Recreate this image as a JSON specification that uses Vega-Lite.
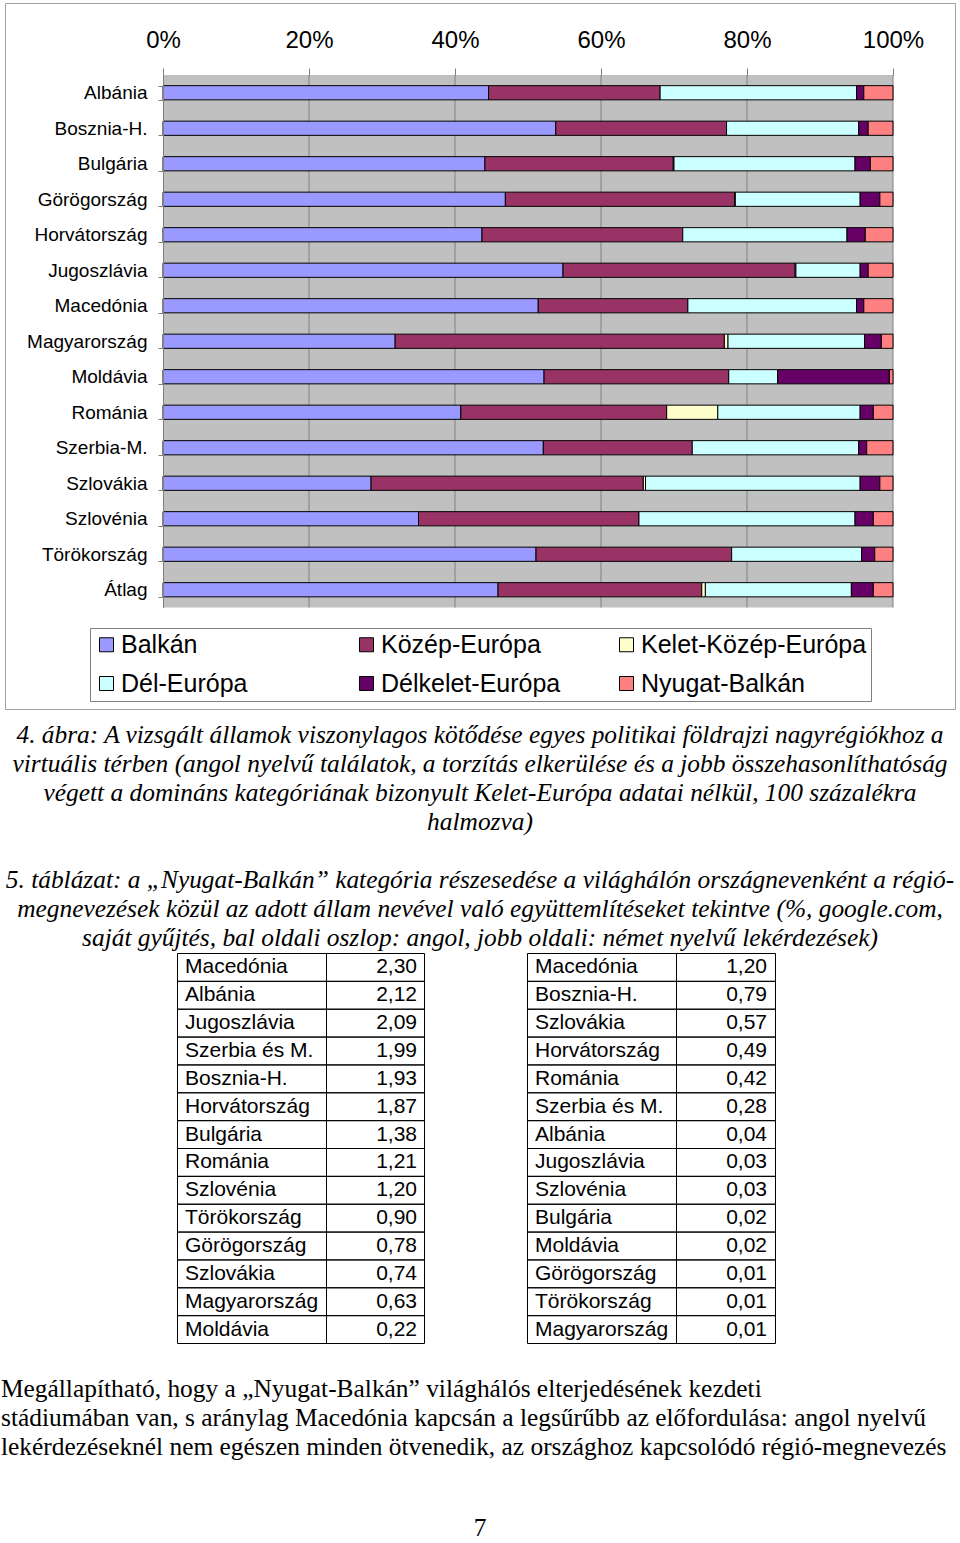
{
  "$schema": "https://vega.github.io/schema/vega-lite/v6.json",
  "width": 960,
  "height": 1543,
  "autosize": {"type": "none"},
  "padding": 0,
  "background": "white",
  "config": {
    "view": {"stroke": null},
    "font": "Liberation Sans",
    "locale": {"number": {"decimal": ",", "thousands": " ", "grouping": [3], "currency": ["", ""]}}
  },
  "datasets": {
    "egy": [{}],
    "racs": [{"ertek": 0.2}, {"ertek": 0.4}, {"ertek": 0.6}, {"ertek": 0.8}, {"ertek": 1.0}],
    "savok": [
      {"orszag": "Albánia", "kategoria": "Balkán", "ertek": 44.6},
      {"orszag": "Albánia", "kategoria": "Közép-Európa", "ertek": 23.5},
      {"orszag": "Albánia", "kategoria": "Dél-Európa", "ertek": 26.9},
      {"orszag": "Albánia", "kategoria": "Délkelet-Európa", "ertek": 1.0},
      {"orszag": "Albánia", "kategoria": "Nyugat-Balkán", "ertek": 4.0},
      {"orszag": "Bosznia-H.", "kategoria": "Balkán", "ertek": 53.8},
      {"orszag": "Bosznia-H.", "kategoria": "Közép-Európa", "ertek": 23.4},
      {"orszag": "Bosznia-H.", "kategoria": "Dél-Európa", "ertek": 18.1},
      {"orszag": "Bosznia-H.", "kategoria": "Délkelet-Európa", "ertek": 1.3},
      {"orszag": "Bosznia-H.", "kategoria": "Nyugat-Balkán", "ertek": 3.4},
      {"orszag": "Bulgária", "kategoria": "Balkán", "ertek": 44.1},
      {"orszag": "Bulgária", "kategoria": "Közép-Európa", "ertek": 25.8},
      {"orszag": "Bulgária", "kategoria": "Kelet-Közép-Európa", "ertek": 0.1},
      {"orszag": "Bulgária", "kategoria": "Dél-Európa", "ertek": 24.8},
      {"orszag": "Bulgária", "kategoria": "Délkelet-Európa", "ertek": 2.1},
      {"orszag": "Bulgária", "kategoria": "Nyugat-Balkán", "ertek": 3.1},
      {"orszag": "Görögország", "kategoria": "Balkán", "ertek": 46.9},
      {"orszag": "Görögország", "kategoria": "Közép-Európa", "ertek": 31.4},
      {"orszag": "Görögország", "kategoria": "Kelet-Közép-Európa", "ertek": 0.1},
      {"orszag": "Görögország", "kategoria": "Dél-Európa", "ertek": 17.1},
      {"orszag": "Görögország", "kategoria": "Délkelet-Európa", "ertek": 2.7},
      {"orszag": "Görögország", "kategoria": "Nyugat-Balkán", "ertek": 1.8},
      {"orszag": "Horvátország", "kategoria": "Balkán", "ertek": 43.7},
      {"orszag": "Horvátország", "kategoria": "Közép-Európa", "ertek": 27.5},
      {"orszag": "Horvátország", "kategoria": "Dél-Európa", "ertek": 22.5},
      {"orszag": "Horvátország", "kategoria": "Délkelet-Európa", "ertek": 2.5},
      {"orszag": "Horvátország", "kategoria": "Nyugat-Balkán", "ertek": 3.8},
      {"orszag": "Jugoszlávia", "kategoria": "Balkán", "ertek": 54.8},
      {"orszag": "Jugoszlávia", "kategoria": "Közép-Európa", "ertek": 31.8},
      {"orszag": "Jugoszlávia", "kategoria": "Kelet-Közép-Európa", "ertek": 0.1},
      {"orszag": "Jugoszlávia", "kategoria": "Dél-Európa", "ertek": 8.8},
      {"orszag": "Jugoszlávia", "kategoria": "Délkelet-Európa", "ertek": 1.1},
      {"orszag": "Jugoszlávia", "kategoria": "Nyugat-Balkán", "ertek": 3.4},
      {"orszag": "Macedónia", "kategoria": "Balkán", "ertek": 51.4},
      {"orszag": "Macedónia", "kategoria": "Közép-Európa", "ertek": 20.5},
      {"orszag": "Macedónia", "kategoria": "Dél-Európa", "ertek": 23.1},
      {"orszag": "Macedónia", "kategoria": "Délkelet-Európa", "ertek": 1.0},
      {"orszag": "Macedónia", "kategoria": "Nyugat-Balkán", "ertek": 4.0},
      {"orszag": "Magyarország", "kategoria": "Balkán", "ertek": 31.8},
      {"orszag": "Magyarország", "kategoria": "Közép-Európa", "ertek": 45.1},
      {"orszag": "Magyarország", "kategoria": "Kelet-Közép-Európa", "ertek": 0.5},
      {"orszag": "Magyarország", "kategoria": "Dél-Európa", "ertek": 18.7},
      {"orszag": "Magyarország", "kategoria": "Délkelet-Európa", "ertek": 2.3},
      {"orszag": "Magyarország", "kategoria": "Nyugat-Balkán", "ertek": 1.6},
      {"orszag": "Moldávia", "kategoria": "Balkán", "ertek": 52.2},
      {"orszag": "Moldávia", "kategoria": "Közép-Európa", "ertek": 25.3},
      {"orszag": "Moldávia", "kategoria": "Dél-Európa", "ertek": 6.7},
      {"orszag": "Moldávia", "kategoria": "Délkelet-Európa", "ertek": 15.3},
      {"orszag": "Moldávia", "kategoria": "Nyugat-Balkán", "ertek": 0.5},
      {"orszag": "Románia", "kategoria": "Balkán", "ertek": 40.8},
      {"orszag": "Románia", "kategoria": "Közép-Európa", "ertek": 28.2},
      {"orszag": "Románia", "kategoria": "Kelet-Közép-Európa", "ertek": 7.0},
      {"orszag": "Románia", "kategoria": "Dél-Európa", "ertek": 19.5},
      {"orszag": "Románia", "kategoria": "Délkelet-Európa", "ertek": 1.8},
      {"orszag": "Románia", "kategoria": "Nyugat-Balkán", "ertek": 2.7},
      {"orszag": "Szerbia-M.", "kategoria": "Balkán", "ertek": 52.1},
      {"orszag": "Szerbia-M.", "kategoria": "Közép-Európa", "ertek": 20.4},
      {"orszag": "Szerbia-M.", "kategoria": "Dél-Európa", "ertek": 22.8},
      {"orszag": "Szerbia-M.", "kategoria": "Délkelet-Európa", "ertek": 1.1},
      {"orszag": "Szerbia-M.", "kategoria": "Nyugat-Balkán", "ertek": 3.6},
      {"orszag": "Szlovákia", "kategoria": "Balkán", "ertek": 28.5},
      {"orszag": "Szlovákia", "kategoria": "Közép-Európa", "ertek": 37.3},
      {"orszag": "Szlovákia", "kategoria": "Kelet-Közép-Európa", "ertek": 0.3},
      {"orszag": "Szlovákia", "kategoria": "Dél-Európa", "ertek": 29.4},
      {"orszag": "Szlovákia", "kategoria": "Délkelet-Európa", "ertek": 2.7},
      {"orszag": "Szlovákia", "kategoria": "Nyugat-Balkán", "ertek": 1.8},
      {"orszag": "Szlovénia", "kategoria": "Balkán", "ertek": 35.0},
      {"orszag": "Szlovénia", "kategoria": "Közép-Európa", "ertek": 30.2},
      {"orszag": "Szlovénia", "kategoria": "Dél-Európa", "ertek": 29.6},
      {"orszag": "Szlovénia", "kategoria": "Délkelet-Európa", "ertek": 2.5},
      {"orszag": "Szlovénia", "kategoria": "Nyugat-Balkán", "ertek": 2.7},
      {"orszag": "Törökország", "kategoria": "Balkán", "ertek": 51.1},
      {"orszag": "Törökország", "kategoria": "Közép-Európa", "ertek": 26.8},
      {"orszag": "Törökország", "kategoria": "Dél-Európa", "ertek": 17.8},
      {"orszag": "Törökország", "kategoria": "Délkelet-Európa", "ertek": 1.8},
      {"orszag": "Törökország", "kategoria": "Nyugat-Balkán", "ertek": 2.5},
      {"orszag": "Átlag", "kategoria": "Balkán", "ertek": 45.9},
      {"orszag": "Átlag", "kategoria": "Közép-Európa", "ertek": 27.9},
      {"orszag": "Átlag", "kategoria": "Kelet-Közép-Európa", "ertek": 0.5},
      {"orszag": "Átlag", "kategoria": "Dél-Európa", "ertek": 20.0},
      {"orszag": "Átlag", "kategoria": "Délkelet-Európa", "ertek": 3.0},
      {"orszag": "Átlag", "kategoria": "Nyugat-Balkán", "ertek": 2.7}
    ],
    "tablazat": [
      {"tabla": "angol", "helyezes": 1, "orszag": "Macedónia", "ertek": 2.30},
      {"tabla": "angol", "helyezes": 2, "orszag": "Albánia", "ertek": 2.12},
      {"tabla": "angol", "helyezes": 3, "orszag": "Jugoszlávia", "ertek": 2.09},
      {"tabla": "angol", "helyezes": 4, "orszag": "Szerbia és M.", "ertek": 1.99},
      {"tabla": "angol", "helyezes": 5, "orszag": "Bosznia-H.", "ertek": 1.93},
      {"tabla": "angol", "helyezes": 6, "orszag": "Horvátország", "ertek": 1.87},
      {"tabla": "angol", "helyezes": 7, "orszag": "Bulgária", "ertek": 1.38},
      {"tabla": "angol", "helyezes": 8, "orszag": "Románia", "ertek": 1.21},
      {"tabla": "angol", "helyezes": 9, "orszag": "Szlovénia", "ertek": 1.20},
      {"tabla": "angol", "helyezes": 10, "orszag": "Törökország", "ertek": 0.90},
      {"tabla": "angol", "helyezes": 11, "orszag": "Görögország", "ertek": 0.78},
      {"tabla": "angol", "helyezes": 12, "orszag": "Szlovákia", "ertek": 0.74},
      {"tabla": "angol", "helyezes": 13, "orszag": "Magyarország", "ertek": 0.63},
      {"tabla": "angol", "helyezes": 14, "orszag": "Moldávia", "ertek": 0.22},
      {"tabla": "német", "helyezes": 1, "orszag": "Macedónia", "ertek": 1.20},
      {"tabla": "német", "helyezes": 2, "orszag": "Bosznia-H.", "ertek": 0.79},
      {"tabla": "német", "helyezes": 3, "orszag": "Szlovákia", "ertek": 0.57},
      {"tabla": "német", "helyezes": 4, "orszag": "Horvátország", "ertek": 0.49},
      {"tabla": "német", "helyezes": 5, "orszag": "Románia", "ertek": 0.42},
      {"tabla": "német", "helyezes": 6, "orszag": "Szerbia és M.", "ertek": 0.28},
      {"tabla": "német", "helyezes": 7, "orszag": "Albánia", "ertek": 0.04},
      {"tabla": "német", "helyezes": 8, "orszag": "Jugoszlávia", "ertek": 0.03},
      {"tabla": "német", "helyezes": 9, "orszag": "Szlovénia", "ertek": 0.03},
      {"tabla": "német", "helyezes": 10, "orszag": "Bulgária", "ertek": 0.02},
      {"tabla": "német", "helyezes": 11, "orszag": "Moldávia", "ertek": 0.02},
      {"tabla": "német", "helyezes": 12, "orszag": "Görögország", "ertek": 0.01},
      {"tabla": "német", "helyezes": 13, "orszag": "Törökország", "ertek": 0.01},
      {"tabla": "német", "helyezes": 14, "orszag": "Magyarország", "ertek": 0.01}
    ],
    "szovegek": [
      {"blokk": "abra", "sor": 1, "szoveg": "4. ábra: A vizsgált államok viszonylagos kötődése egyes politikai földrajzi nagyrégiókhoz a"},
      {"blokk": "abra", "sor": 2, "szoveg": "virtuális térben (angol nyelvű találatok, a torzítás elkerülése és a jobb összehasonlíthatóság"},
      {"blokk": "abra", "sor": 3, "szoveg": "végett a domináns kategóriának bizonyult Kelet-Európa adatai nélkül, 100 százalékra"},
      {"blokk": "abra", "sor": 4, "szoveg": "halmozva)"},
      {"blokk": "tablazat", "sor": 1, "szoveg": "5. táblázat: a „Nyugat-Balkán” kategória részesedése a világhálón országnevenként a régió-"},
      {"blokk": "tablazat", "sor": 2, "szoveg": "megnevezések közül az adott állam nevével való együttemlítéseket tekintve (%, google.com,"},
      {"blokk": "tablazat", "sor": 3, "szoveg": "saját gyűjtés, bal oldali oszlop: angol, jobb oldali: német nyelvű lekérdezések)"},
      {"blokk": "bekezdes", "sor": 1, "szoveg": "\u2003\u2003\u2003Megállapítható, hogy a „Nyugat-Balkán” világhálós elterjedésének kezdeti"},
      {"blokk": "bekezdes", "sor": 2, "szoveg": "stádiumában van, s aránylag Macedónia kapcsán a legsűrűbb az előfordulása: angol nyelvű"},
      {"blokk": "bekezdes", "sor": 3, "szoveg": "lekérdezéseknél nem egészen minden ötvenedik, az országhoz kapcsolódó régió-megnevezés"},
      {"blokk": "oldalszam", "sor": 1, "szoveg": "7"}
    ]
  },
  "layer": [
    {
      "data": {"name": "egy"},
      "mark": {"type": "rect", "fill": "transparent", "stroke": "#a0a0a0", "strokeWidth": 1},
      "encoding": {
        "x": {"datum": 0, "type": "quantitative", "scale": {"domain": [0, 1], "range": [5.5, 955.5]}, "axis": null},
        "x2": {"datum": 1},
        "y": {"datum": 0, "type": "quantitative", "scale": {"domain": [0, 1], "range": [3.5, 709.5]}, "axis": null},
        "y2": {"datum": 1}
      }
    },
    {
      "data": {"name": "egy"},
      "mark": {"type": "rect", "fill": "#c0c0c0"},
      "encoding": {
        "x": {"datum": 0, "type": "quantitative", "scale": {"domain": [0, 1], "range": [163, 893]}, "axis": null},
        "x2": {"datum": 1},
        "y": {"datum": 0, "type": "quantitative", "scale": {"domain": [0, 1], "range": [75, 607.5]}, "axis": null},
        "y2": {"datum": 1}
      }
    },
    {
      "data": {"name": "racs"},
      "mark": {"type": "rule", "color": "#808080", "strokeWidth": 1},
      "encoding": {
        "x": {"field": "ertek", "type": "quantitative", "scale": {"domain": [0, 1], "range": [163, 893]}, "axis": null},
        "y": {"datum": 0, "type": "quantitative", "scale": {"domain": [0, 1], "range": [75, 607.5]}, "axis": null},
        "y2": {"datum": 1}
      }
    },
    {
      "data": {"name": "savok"},
      "transform": [
        {"calculate": "indexof(['Balkán', 'Közép-Európa', 'Kelet-Közép-Európa', 'Dél-Európa', 'Délkelet-Európa', 'Nyugat-Balkán'], datum.kategoria)", "as": "sorrend"}
      ],
      "mark": {"type": "bar", "stroke": "#000000", "strokeWidth": 1},
      "encoding": {
        "y": {
          "field": "orszag", "type": "nominal",
          "sort": ["Albánia", "Bosznia-H.", "Bulgária", "Görögország", "Horvátország", "Jugoszlávia", "Macedónia", "Magyarország", "Moldávia", "Románia", "Szerbia-M.", "Szlovákia", "Szlovénia", "Törökország", "Átlag"],
          "scale": {"type": "band", "range": [75, 607.5], "paddingInner": 0.6, "paddingOuter": 0.3},
          "axis": {"orient": "left", "offset": -163, "zindex": 1, "title": null, "labelFontSize": 19, "labelFont": "Liberation Sans", "labelColor": "#000000", "labelPadding": 11, "tickBand": "extent", "tickSize": 5, "tickColor": "#808080", "domainColor": "#808080", "grid": false}
        },
        "x": {
          "field": "ertek", "type": "quantitative", "stack": "normalize",
          "scale": {"domain": [0, 1], "range": [163, 893], "nice": false},
          "axis": {"orient": "top", "offset": -75, "zindex": 1, "title": null, "values": [0, 0.2, 0.4, 0.6, 0.8, 1], "format": ".0%", "labelFontSize": 24, "labelFont": "Liberation Sans", "labelColor": "#000000", "labelPadding": 16, "labelFlush": false, "labelOverlap": false, "domain": false, "tickSize": 7, "tickColor": "#808080", "grid": false}
        },
        "order": {"field": "sorrend", "type": "quantitative", "sort": "ascending"},
        "fill": {
          "field": "kategoria", "type": "nominal",
          "scale": {"domain": ["Balkán", "Közép-Európa", "Kelet-Közép-Európa", "Dél-Európa", "Délkelet-Európa", "Nyugat-Balkán"], "range": ["#9999ff", "#993366", "#ffffcc", "#ccffff", "#660066", "#ff8080"]},
          "legend": {"orient": "none", "legendX": 90, "legendY": 628, "direction": "horizontal", "columns": 3, "title": null, "labelFontSize": 25, "labelFont": "Liberation Sans", "labelColor": "#000000", "labelLimit": 400, "symbolType": "square", "symbolSize": 196, "symbolStrokeColor": "#000000", "symbolStrokeWidth": 1, "labelOffset": 2, "columnPadding": 7, "rowPadding": 13, "padding": 4, "strokeColor": "#808080", "fillColor": "#ffffff", "gridAlign": "all"}
        }
      }
    },
    {
      "data": {"name": "szovegek"},
      "transform": [{"filter": "datum.blokk === 'abra'"}],
      "mark": {"type": "text", "font": "Liberation Serif", "fontStyle": "italic", "fontSize": 25.4, "align": "center", "baseline": "middle", "color": "#000000"},
      "encoding": {
        "text": {"field": "szoveg"},
        "y": {"field": "sor", "type": "ordinal", "scale": {"type": "point", "range": [735, 822], "padding": 0}, "axis": null}
      }
    },
    {
      "data": {"name": "szovegek"},
      "transform": [{"filter": "datum.blokk === 'tablazat'"}],
      "mark": {"type": "text", "font": "Liberation Serif", "fontStyle": "italic", "fontSize": 25.4, "align": "center", "baseline": "middle", "color": "#000000"},
      "encoding": {
        "text": {"field": "szoveg"},
        "y": {"field": "sor", "type": "ordinal", "scale": {"type": "point", "range": [880, 938], "padding": 0}, "axis": null}
      }
    },
    {
      "data": {"name": "tablazat"},
      "transform": [{"filter": "datum.tabla === 'angol'"}],
      "mark": {"type": "rect", "fill": "transparent", "stroke": "#000000", "strokeWidth": 1},
      "encoding": {
        "y": {"field": "helyezes", "type": "ordinal", "scale": {"type": "band", "range": [953.5, 1343.5], "paddingInner": 0, "paddingOuter": 0}, "axis": null},
        "x": {"datum": 0, "type": "quantitative", "scale": {"domain": [0, 1], "range": [177.5, 326.5]}, "axis": null},
        "x2": {"datum": 1}
      }
    },
    {
      "data": {"name": "tablazat"},
      "transform": [{"filter": "datum.tabla === 'angol'"}],
      "mark": {"type": "rect", "fill": "transparent", "stroke": "#000000", "strokeWidth": 1},
      "encoding": {
        "y": {"field": "helyezes", "type": "ordinal", "scale": {"type": "band", "range": [953.5, 1343.5], "paddingInner": 0, "paddingOuter": 0}, "axis": null},
        "x": {"datum": 0, "type": "quantitative", "scale": {"domain": [0, 1], "range": [326.5, 424.5]}, "axis": null},
        "x2": {"datum": 1}
      }
    },
    {
      "data": {"name": "tablazat"},
      "transform": [{"filter": "datum.tabla === 'német'"}],
      "mark": {"type": "rect", "fill": "transparent", "stroke": "#000000", "strokeWidth": 1},
      "encoding": {
        "y": {"field": "helyezes", "type": "ordinal", "scale": {"type": "band", "range": [953.5, 1343.5], "paddingInner": 0, "paddingOuter": 0}, "axis": null},
        "x": {"datum": 0, "type": "quantitative", "scale": {"domain": [0, 1], "range": [527.5, 676.5]}, "axis": null},
        "x2": {"datum": 1}
      }
    },
    {
      "data": {"name": "tablazat"},
      "transform": [{"filter": "datum.tabla === 'német'"}],
      "mark": {"type": "rect", "fill": "transparent", "stroke": "#000000", "strokeWidth": 1},
      "encoding": {
        "y": {"field": "helyezes", "type": "ordinal", "scale": {"type": "band", "range": [953.5, 1343.5], "paddingInner": 0, "paddingOuter": 0}, "axis": null},
        "x": {"datum": 0, "type": "quantitative", "scale": {"domain": [0, 1], "range": [676.5, 775.5]}, "axis": null},
        "x2": {"datum": 1}
      }
    },
    {
      "data": {"name": "tablazat"},
      "mark": {"type": "text", "font": "Liberation Sans", "fontSize": 21, "align": "left", "baseline": "middle", "color": "#000000"},
      "encoding": {
        "text": {"field": "orszag"},
        "x": {"field": "tabla", "type": "nominal", "scale": {"type": "point", "domain": ["angol", "német"], "range": [185, 535], "padding": 0}, "axis": null},
        "y": {"field": "helyezes", "type": "ordinal", "scale": {"type": "band", "range": [953.5, 1343.5], "paddingInner": 0, "paddingOuter": 0}, "axis": null}
      }
    },
    {
      "data": {"name": "tablazat"},
      "mark": {"type": "text", "font": "Liberation Sans", "fontSize": 21, "align": "right", "baseline": "middle", "color": "#000000"},
      "encoding": {
        "text": {"field": "ertek", "type": "quantitative", "format": ".2f"},
        "x": {"field": "tabla", "type": "nominal", "scale": {"type": "point", "domain": ["angol", "német"], "range": [417, 767], "padding": 0}, "axis": null},
        "y": {"field": "helyezes", "type": "ordinal", "scale": {"type": "band", "range": [953.5, 1343.5], "paddingInner": 0, "paddingOuter": 0}, "axis": null}
      }
    },
    {
      "data": {"name": "szovegek"},
      "transform": [{"filter": "datum.blokk === 'bekezdes'"}],
      "mark": {"type": "text", "font": "Liberation Serif", "fontSize": 25.4, "align": "left", "baseline": "middle", "color": "#000000"},
      "encoding": {
        "text": {"field": "szoveg"},
        "x": {"datum": 0, "type": "quantitative", "scale": {"domain": [0, 1], "range": [1, 955]}, "axis": null},
        "y": {"field": "sor", "type": "ordinal", "scale": {"type": "point", "range": [1389, 1447], "padding": 0}, "axis": null}
      }
    },
    {
      "data": {"name": "szovegek"},
      "transform": [{"filter": "datum.blokk === 'oldalszam'"}],
      "mark": {"type": "text", "font": "Liberation Serif", "fontSize": 25.4, "align": "center", "baseline": "middle", "color": "#000000"},
      "encoding": {
        "text": {"field": "szoveg"},
        "y": {"field": "sor", "type": "ordinal", "scale": {"type": "point", "range": [1528, 1528], "padding": 0}, "axis": null}
      }
    }
  ],
  "resolve": {"scale": {"x": "independent", "y": "independent", "fill": "independent"}}
}
